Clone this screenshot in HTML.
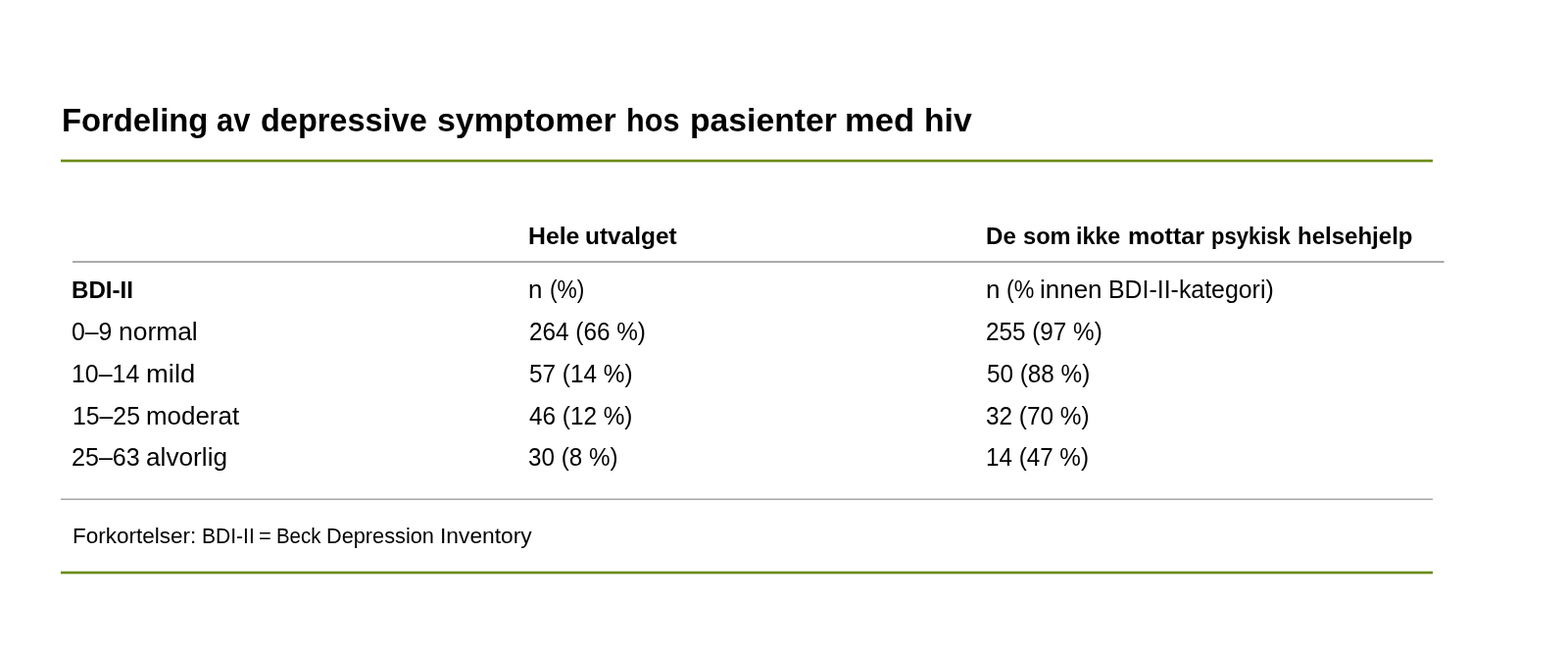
<!DOCTYPE html>
<html lang="no"><head><meta charset="utf-8"><title>Fordeling av depressive symptomer hos pasienter med hiv</title>
<style>
html,body{margin:0;padding:0;background:#fff;}
body{width:1600px;height:667px;position:relative;overflow:hidden;font-family:"Liberation Sans",sans-serif;color:#000;}
.t{position:absolute;left:0;width:1600px;height:0;margin:0;padding:0;white-space:nowrap;line-height:1;font-weight:normal;}
.t span{position:absolute;top:0;display:block;transform-origin:0 0;white-space:nowrap;}
.b{font-weight:bold;}
.ln{position:absolute;left:0;top:0;}
</style></head><body>
<svg class="ln" width="1600" height="667" viewBox="0 0 1600 667">
<rect x="62" y="162.67" width="1400" height="2.66" fill="#6b8c18"/>
<rect x="74" y="266.1" width="1399.6" height="1.9" fill="#a6a6a6"/>
<rect x="62" y="508.5" width="1400" height="1.4" fill="#a0a0a0"/>
<rect x="62" y="582.67" width="1400" height="2.66" fill="#6b8c18"/>
</svg>
<h1 id="title" class="t b" style="top:105px;font-size:34px"><span id="title_0" style="left:63.02px;transform:scaleX(0.9644)">Fordeling</span> <span id="title_1" style="left:221.02px;transform:scaleX(0.9064)">av</span> <span id="title_2" style="left:266.01px;transform:scaleX(0.9551)">depressive</span> <span id="title_3" style="left:446.25px;transform:scaleX(0.9970)">symptomer</span> <span id="title_4" style="left:638.56px;transform:scaleX(0.9009)">hos</span> <span id="title_5" style="left:703.63px;transform:scaleX(0.9912)">pasienter</span> <span id="title_6" style="left:862.25px;transform:scaleX(1.0181)">med</span> <span id="title_7" style="left:942.72px;transform:scaleX(0.9908)">hiv</span></h1>
<div id="h1" class="t b" style="top:229px;font-size:24.8px"><span id="h1_0" style="left:539.32px;transform:scaleX(1.0009)">Hele</span> <span id="h1_1" style="left:597.07px;transform:scaleX(0.9852)">utvalget</span></div>
<div id="h2" class="t b" style="top:229px;font-size:24.8px"><span id="h2_0" style="left:1005.75px;transform:scaleX(0.9714)">De</span> <span id="h2_1" style="left:1043.57px;transform:scaleX(0.9530)">som</span> <span id="h2_2" style="left:1098.09px;transform:scaleX(0.9378)">ikke</span> <span id="h2_3" style="left:1150.93px;transform:scaleX(1.0099)">mottar</span> <span id="h2_4" style="left:1235.88px;transform:scaleX(0.8872)">psykisk</span> <span id="h2_5" style="left:1324.33px;transform:scaleX(0.9688)">helsehjelp</span></div>
<div id="r0a" class="t b" style="top:284px;font-size:24.8px"><span id="r0a_0" style="left:72.70px;transform:scaleX(0.9735)">BDI-II</span></div>
<div id="r0b" class="t" style="top:283px;font-size:25px"><span id="r0b_0" style="left:539.25px;transform:scaleX(1.0400)">n</span> <span id="r0b_1" style="left:560.57px;transform:scaleX(0.9115)">(%)</span></div>
<div id="r0c" class="t" style="top:283px;font-size:25px"><span id="r0c_0" style="left:1006.25px;transform:scaleX(1.0400)">n</span> <span id="r0c_1" style="left:1026.88px;transform:scaleX(0.9253)">(%</span> <span id="r0c_2" style="left:1061.37px;transform:scaleX(1.0386)">innen</span> <span id="r0c_3" style="left:1130.57px;transform:scaleX(0.9955)">BDI-II-kategori)</span></div>
<div id="r1a" class="t" style="top:326px;font-size:25px"><span id="r1a_0" style="left:72.99px;transform:scaleX(0.9920)">0–9</span> <span id="r1a_1" style="left:121.24px;transform:scaleX(1.0566)">normal</span></div>
<div id="r1b" class="t" style="top:326px;font-size:25px"><span id="r1b_0" style="left:539.88px;transform:scaleX(0.9725)">264 (66 %)</span></div>
<div id="r1c" class="t" style="top:326px;font-size:25px"><span id="r1c_0" style="left:1006.19px;transform:scaleX(0.9708)">255 (97 %)</span></div>
<div id="r2a" class="t" style="top:369px;font-size:25px"><span id="r2a_0" style="left:73.39px;transform:scaleX(0.9962)">10–14</span> <span id="r2a_1" style="left:149.12px;transform:scaleX(1.0947)">mild</span></div>
<div id="r2b" class="t" style="top:369px;font-size:25px"><span id="r2b_0" style="left:539.81px;transform:scaleX(0.9734)">57 (14 %)</span></div>
<div id="r2c" class="t" style="top:369px;font-size:25px"><span id="r2c_0" style="left:1006.86px;transform:scaleX(0.9708)">50 (88 %)</span></div>
<div id="r3a" class="t" style="top:412px;font-size:25px"><span id="r3a_0" style="left:73.73px;transform:scaleX(0.9912)">15–25</span> <span id="r3a_1" style="left:149.03px;transform:scaleX(1.0373)">moderat</span></div>
<div id="r3b" class="t" style="top:412px;font-size:25px"><span id="r3b_0" style="left:539.90px;transform:scaleX(0.9730)">46 (12 %)</span></div>
<div id="r3c" class="t" style="top:412px;font-size:25px"><span id="r3c_0" style="left:1006.21px;transform:scaleX(0.9743)">32 (70 %)</span></div>
<div id="r4a" class="t" style="top:454px;font-size:25px"><span id="r4a_0" style="left:73.09px;transform:scaleX(1.0029)">25–63</span> <span id="r4a_1" style="left:149.10px;transform:scaleX(1.0483)">alvorlig</span></div>
<div id="r4b" class="t" style="top:454px;font-size:25px"><span id="r4b_0" style="left:539.33px;transform:scaleX(0.9687)">30 (8 %)</span></div>
<div id="r4c" class="t" style="top:454px;font-size:25px"><span id="r4c_0" style="left:1006.11px;transform:scaleX(0.9684)">14 (47 %)</span></div>
<p id="foot" class="t" style="top:536px;font-size:22px"><span id="foot_0" style="left:73.83px;transform:scaleX(1.0231)">Forkortelser:</span> <span id="foot_1" style="left:205.61px;transform:scaleX(0.9567)">BDI-II</span> <span id="foot_2" style="left:263.73px;transform:scaleX(0.9952)">=</span> <span id="foot_3" style="left:282.30px;transform:scaleX(0.9285)">Beck</span> <span id="foot_4" style="left:333.38px;transform:scaleX(0.9878)">Depression</span> <span id="foot_5" style="left:448.85px;transform:scaleX(1.0356)">Inventory</span></p>
</body></html>
